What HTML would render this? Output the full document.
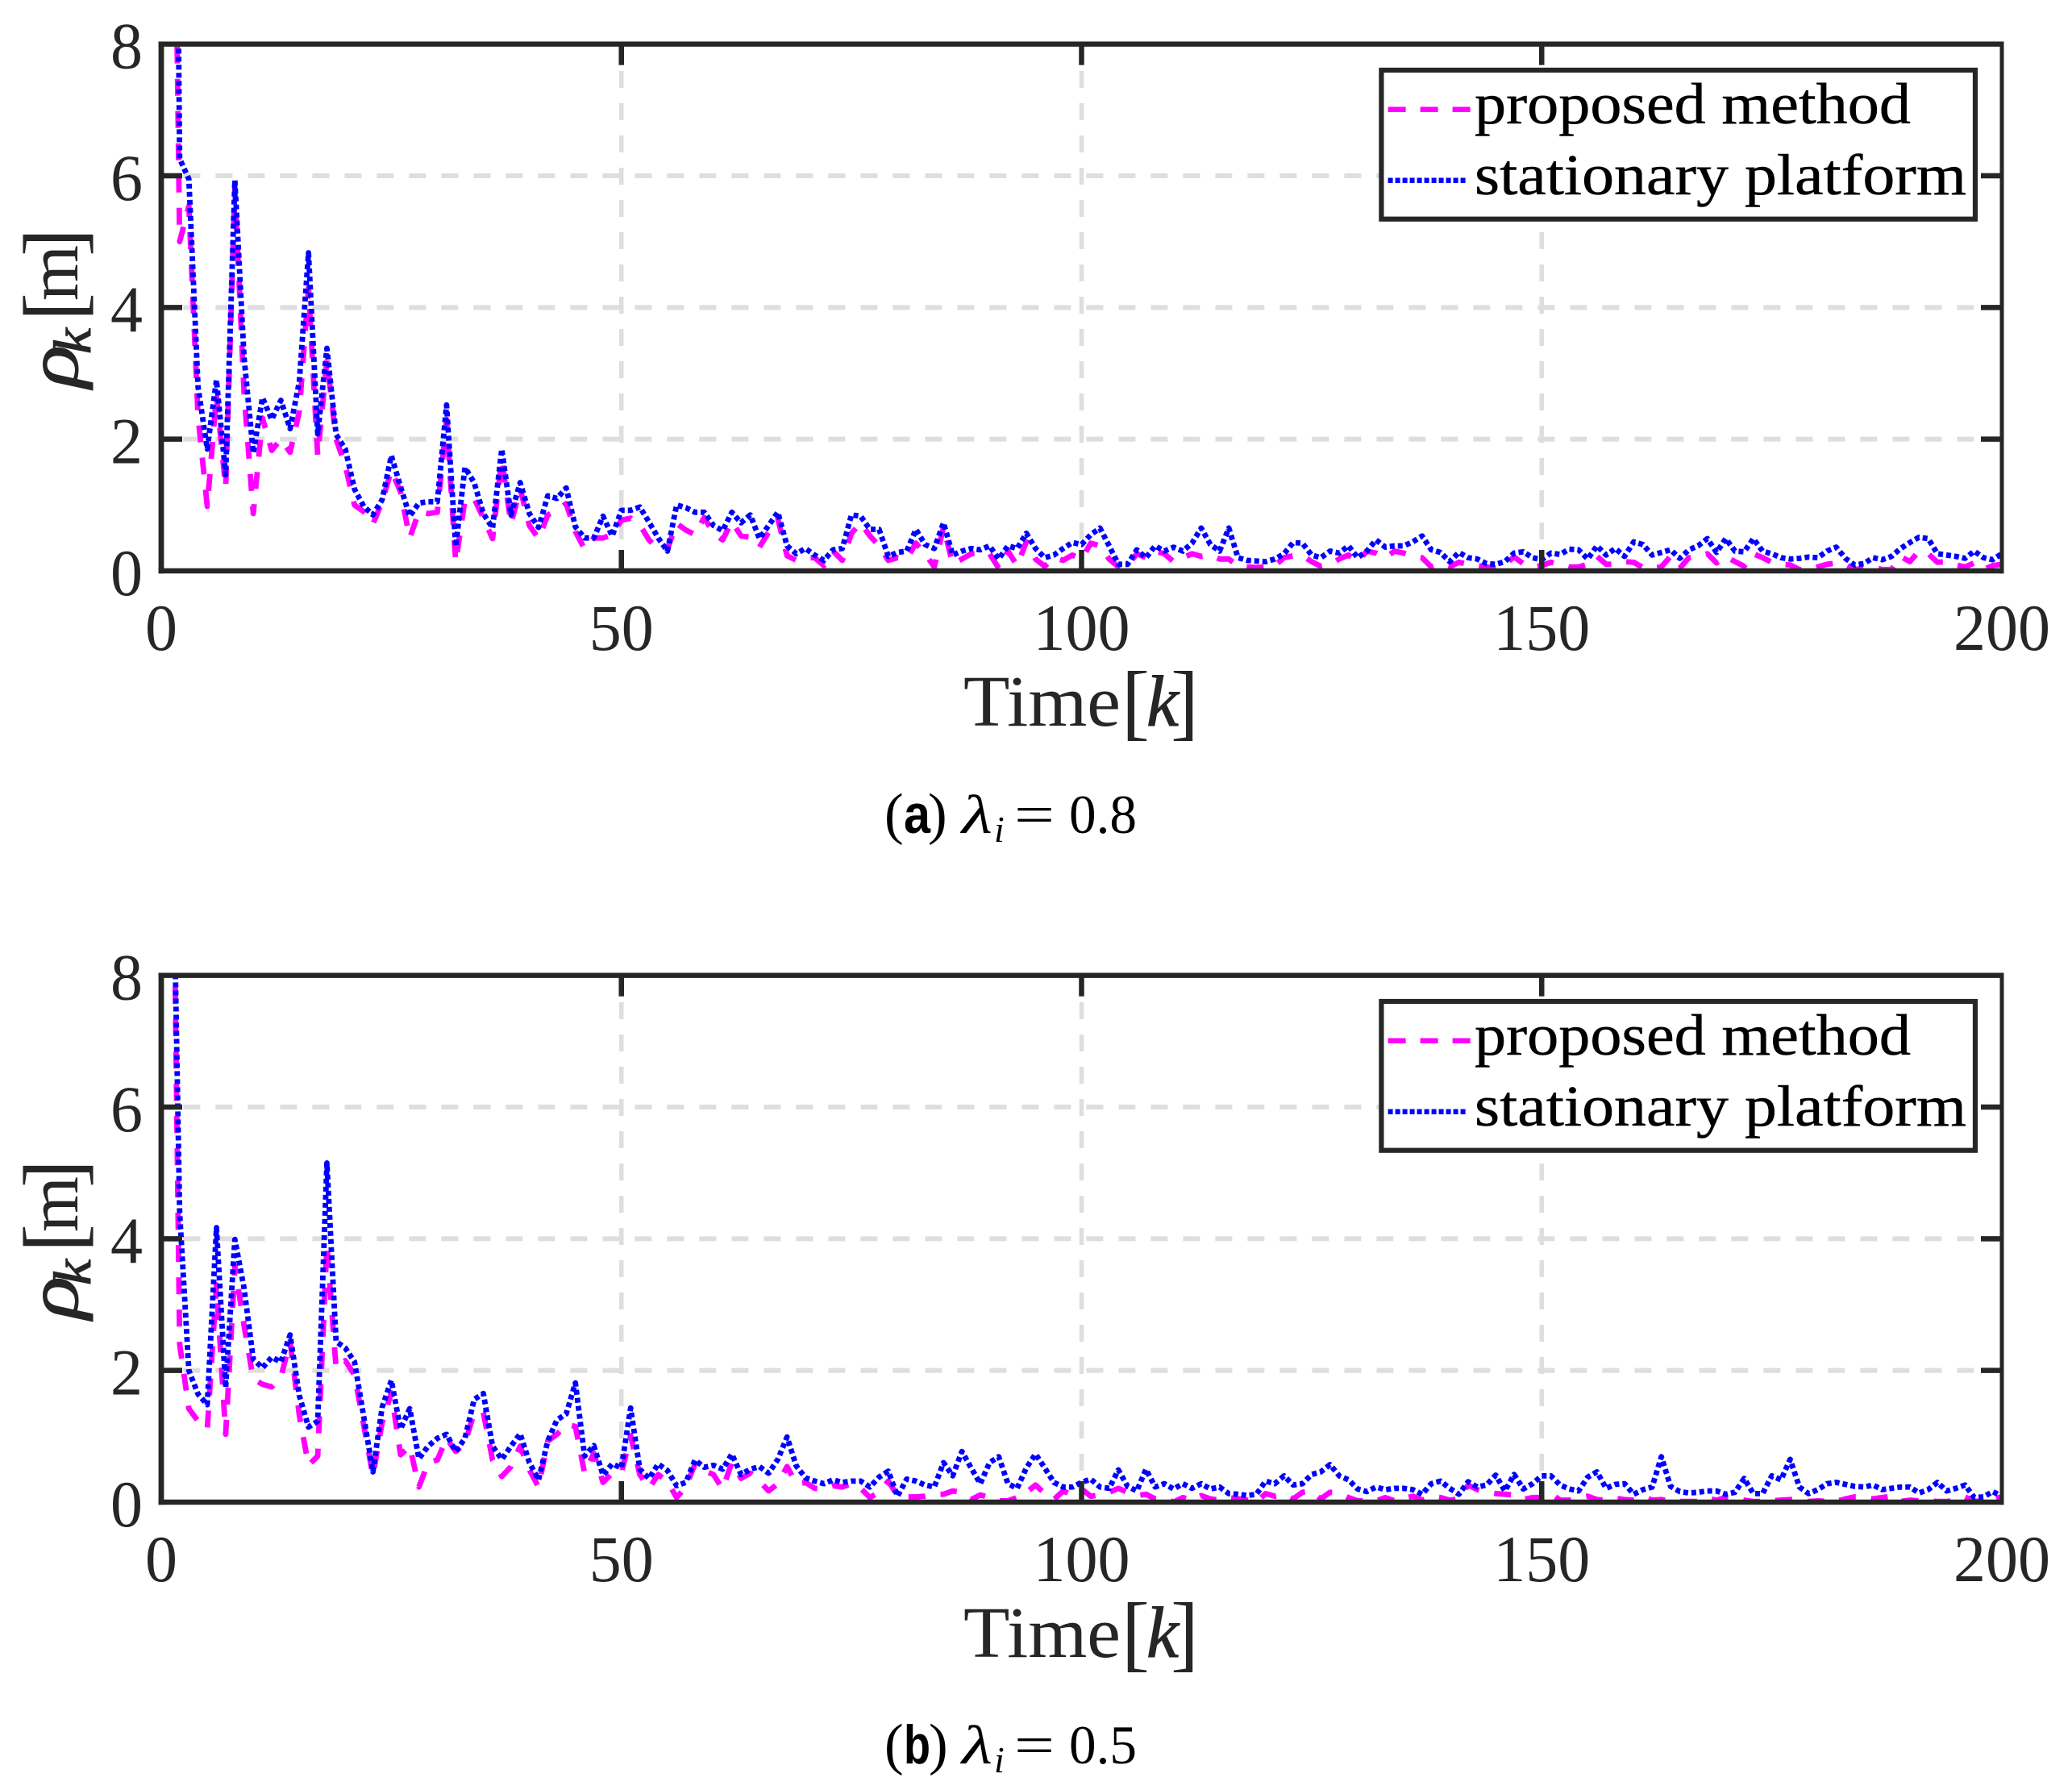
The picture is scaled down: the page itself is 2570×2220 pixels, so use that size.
<!DOCTYPE html>
<html>
<head>
<meta charset="utf-8">
<title>Chart</title>
<style>
html,body{margin:0;padding:0;background:#fff;}
svg{display:block;}
text{font-family:"Liberation Serif",serif;}
.tick{font-size:82px;fill:#262626;}
.lab{font-size:90px;fill:#262626;}
.leg{font-size:72px;fill:#000;stroke:#000;stroke-width:0.5px;}
.cap{font-size:68px;fill:#000;}
</style>
</head>
<body>
<svg id="chart" xmlns="http://www.w3.org/2000/svg" width="2570" height="2220" viewBox="0 0 2570 2220">
<defs>
<clipPath id="plot-clip"><rect x="200" y="54.7" width="2283" height="653.3"/></clipPath>
</defs>
<rect x="0" y="0" width="2570" height="2220" fill="#fff"/>

<g id="panel-a">
  <g id="marks-a" clip-path="url(#plot-clip)"></g>
  <g id="axes-a"></g>
  <g>
    <text class="lab" x="1195" y="900" textLength="195" lengthAdjust="spacingAndGlyphs">Time</text>
    <text class="lab" style="font-size:105px" x="1391" y="905">[</text>
    <text class="lab" style="font-style:italic;stroke:#262626;stroke-width:1px" x="1422" y="900">k</text>
    <text class="lab" style="font-size:105px" x="1452" y="905">]</text>
  </g>
  <g>
    <text class="lab" style="font-style:italic;stroke:#262626;stroke-width:1px" transform="translate(96,481) rotate(-90)" textLength="53" lengthAdjust="spacingAndGlyphs">ρ</text>
    <text class="lab" style="font-style:italic;font-size:66px;stroke:#262626;stroke-width:1px" transform="translate(112,439) rotate(-90)" textLength="32" lengthAdjust="spacingAndGlyphs">k</text>
    <text class="lab" style="font-size:105px" transform="translate(101.6,398) rotate(-90)">[</text>
    <text class="lab" transform="translate(96,373) rotate(-90)" textLength="69" lengthAdjust="spacingAndGlyphs">m</text>
    <text class="lab" style="font-size:105px" transform="translate(101.6,318) rotate(-90)">]</text>
  </g>
  <g>
    <rect x="1713.4" y="87" width="736.6" height="184.7" fill="#fff" stroke="#262626" stroke-width="6.2"/>
    <line x1="1721.6" y1="135.7" x2="1824" y2="135.7" stroke="#ff00ff" stroke-width="6.5" stroke-dasharray="22 18"/>
    <text class="leg" x="1829" y="153" textLength="541" lengthAdjust="spacingAndGlyphs">proposed method</text>
    <line x1="1721.6" y1="223.7" x2="1819" y2="223.7" stroke="#0000ff" stroke-width="6.5" stroke-dasharray="6 3"/>
    <text class="leg" x="1829" y="241" textLength="610" lengthAdjust="spacingAndGlyphs">stationary platform</text>
  </g>
  <g>
    <text class="cap" style="font-size:71px" x="1097" y="1033">(</text>
    <text class="cap" style="font-family:'Liberation Sans',sans-serif;font-weight:bold" x="1121" y="1033" textLength="33" lengthAdjust="spacingAndGlyphs">a</text>
    <text class="cap" style="font-size:71px" x="1151" y="1033">)</text>
    <text class="cap" style="font-style:italic" x="1193" y="1033" textLength="38" lengthAdjust="spacingAndGlyphs">λ</text>
    <text class="cap" style="font-style:italic;font-size:46px" x="1233" y="1044">i</text>
    <text class="cap" x="1258" y="1033" textLength="50" lengthAdjust="spacingAndGlyphs">=</text>
    <text class="cap" x="1326" y="1033" textLength="84" lengthAdjust="spacingAndGlyphs">0.8</text>
  </g>
</g>

<g id="panel-b" transform="translate(0,1155)">
  <g id="marks-b" clip-path="url(#plot-clip)"></g>
  <g id="axes-b"></g>
  <g>
    <text class="lab" x="1195" y="900" textLength="195" lengthAdjust="spacingAndGlyphs">Time</text>
    <text class="lab" style="font-size:105px" x="1391" y="905">[</text>
    <text class="lab" style="font-style:italic;stroke:#262626;stroke-width:1px" x="1422" y="900">k</text>
    <text class="lab" style="font-size:105px" x="1452" y="905">]</text>
  </g>
  <g>
    <text class="lab" style="font-style:italic;stroke:#262626;stroke-width:1px" transform="translate(96,481) rotate(-90)" textLength="53" lengthAdjust="spacingAndGlyphs">ρ</text>
    <text class="lab" style="font-style:italic;font-size:66px;stroke:#262626;stroke-width:1px" transform="translate(112,439) rotate(-90)" textLength="32" lengthAdjust="spacingAndGlyphs">k</text>
    <text class="lab" style="font-size:105px" transform="translate(101.6,398) rotate(-90)">[</text>
    <text class="lab" transform="translate(96,373) rotate(-90)" textLength="69" lengthAdjust="spacingAndGlyphs">m</text>
    <text class="lab" style="font-size:105px" transform="translate(101.6,318) rotate(-90)">]</text>
  </g>
  <g>
    <rect x="1713.4" y="87" width="736.6" height="184.7" fill="#fff" stroke="#262626" stroke-width="6.2"/>
    <line x1="1721.6" y1="135.7" x2="1824" y2="135.7" stroke="#ff00ff" stroke-width="6.5" stroke-dasharray="22 18"/>
    <text class="leg" x="1829" y="153" textLength="541" lengthAdjust="spacingAndGlyphs">proposed method</text>
    <line x1="1721.6" y1="223.7" x2="1819" y2="223.7" stroke="#0000ff" stroke-width="6.5" stroke-dasharray="6 3"/>
    <text class="leg" x="1829" y="241" textLength="610" lengthAdjust="spacingAndGlyphs">stationary platform</text>
  </g>
  <g>
    <text class="cap" style="font-size:71px" x="1097" y="1032">(</text>
    <text class="cap" style="font-family:'Liberation Sans',sans-serif;font-weight:bold" x="1121" y="1032" textLength="33" lengthAdjust="spacingAndGlyphs">b</text>
    <text class="cap" style="font-size:71px" x="1152" y="1032">)</text>
    <text class="cap" style="font-style:italic" x="1193" y="1032" textLength="38" lengthAdjust="spacingAndGlyphs">λ</text>
    <text class="cap" style="font-style:italic;font-size:46px" x="1233" y="1043">i</text>
    <text class="cap" x="1258" y="1032" textLength="50" lengthAdjust="spacingAndGlyphs">=</text>
    <text class="cap" x="1326" y="1032" textLength="84" lengthAdjust="spacingAndGlyphs">0.5</text>
  </g>
</g>
</svg>

<script>
var xTicks = [0, 50, 100, 150, 200];
var yTicks = [0, 2, 4, 6, 8];
var xMax = 200;
var yMax = 8;

var proposedA = [
15.8,5.0,5.54,2.34,.98,2.67,1.26,5.8,2.7,.87,
2.32,1.83,2.0,1.8,2.42,4.3,1.75,3.2,2.0,1.6,
1.0,.9,.71,1.05,1.53,1.2,.5,.9,.87,.89,
2.3,.13,1.08,1.1,.8,.49,1.7,.71,1.25,.69,
.49,.85,.92,1.02,.6,.33,.5,.5,.55,.77,
.8,.7,.47,.33,.33,.72,.62,.55,.81,.57,
.47,.75,.53,.51,.36,.59,.79,.23,.16,.2,
.2,.08,.3,.16,.57,.73,.53,.38,.16,.2,
.18,.42,.26,.06,.67,.1,.18,.26,.26,.26,
.04,.3,.08,.44,.18,.07,.2,.16,.24,.18,
.42,.38,.18,.06,.08,.26,.2,.3,.26,.14,
.2,.26,.22,.24,.18,.18,.07,.06,.05,.06,
.08,.2,.23,.23,.14,.07,.1,.18,.24,.14,
.3,.27,.2,.3,.27,.22,.2,.06,.1,.06,
.13,.1,.08,.06,.04,.1,.21,.11,.06,.08,
.13,.1,.06,.06,.1,.22,.1,.1,.14,.13,
.05,.04,.06,.22,.04,.2,.22,.26,.12,.22,
.14,.07,.26,.2,.13,.1,.09,.02,.02,.06,
.1,.12,.1,.02,.04,.06,.02,.02,.22,.14,
.3,.26,.13,.14,.09,.06,.12,.02,.08,.1
];
var stationaryA = [
21.4,6.26,5.95,2.79,1.85,2.9,1.46,5.93,3.24,1.79,
2.63,2.3,2.59,2.16,2.87,4.83,2.08,3.38,2.07,1.85,
1.24,.98,.85,1.08,1.75,1.28,.83,1.03,1.05,1.05,
2.52,.37,1.57,1.34,.87,.65,1.85,.85,1.34,.87,
.66,1.14,1.1,1.26,.67,.5,.5,.83,.53,.92,
.92,.97,.74,.5,.3,1.0,.96,.89,.89,.69,
.61,.89,.73,.85,.49,.69,.89,.38,.26,.34,
.24,.16,.32,.34,.85,.83,.63,.63,.22,.28,
.3,.63,.4,.34,.73,.24,.3,.34,.32,.38,
.18,.38,.34,.57,.34,.2,.24,.34,.43,.4,
.55,.65,.38,.1,.1,.32,.2,.38,.3,.36,
.3,.42,.65,.4,.3,.65,.2,.16,.15,.14,
.18,.26,.43,.42,.24,.2,.3,.27,.38,.2,
.3,.47,.36,.38,.38,.44,.53,.32,.28,.14,
.28,.2,.18,.11,.1,.14,.27,.29,.2,.17,
.27,.25,.33,.32,.18,.38,.24,.34,.22,.44,
.4,.24,.28,.32,.19,.32,.38,.49,.28,.49,
.3,.29,.49,.3,.26,.2,.18,.19,.21,.2,
.3,.36,.19,.09,.11,.2,.17,.22,.34,.43,
.51,.49,.26,.24,.22,.19,.3,.2,.17,.26
];
var proposedB = [
13.7,2.4,1.42,1.23,1.11,3.3,1.03,3.58,2.68,1.87,
1.79,1.75,1.9,2.44,1.32,.56,.7,3.9,2.03,2.15,
1.93,1.17,.4,1.21,1.66,.72,.85,.23,.6,.64,
.97,.77,.89,1.36,1.36,.64,.39,.54,.85,.49,
.23,.93,1.03,1.18,1.15,.44,.74,.3,.44,.44,
1.01,.42,.21,.42,.31,.07,.23,.58,.48,.42,
.2,.6,.36,.44,.32,.17,.28,.54,.28,.3,
.21,.2,.25,.23,.28,.21,.07,.15,.32,.1,
.08,.08,.09,.12,.12,.17,.15,.04,.11,.07,
.02,.02,.07,.15,.26,.13,.04,.17,.11,.2,
.09,.11,.15,.21,.15,.1,.12,.05,.07,0,
.07,.03,.1,.05,.03,.07,.05,.03,0,.13,
.09,.12,.05,.15,.17,.05,.15,.14,.07,.02,
.02,.02,.07,.02,.06,.09,.03,.09,.07,.03,
.05,.26,.19,.15,.13,.12,.11,.04,.07,.07,
.13,.03,.03,.07,.09,.04,.03,.06,.04,.03,
.09,.03,.04,.01,.01,.01,.01,.06,.03,.07,
.07,.03,.01,.01,.02,.03,.04,.04,.01,.02,
.01,.01,.05,.08,.08,.05,.07,.09,.01,.03,
.02,.02,.01,.01,.03,.08,.01,.02,.05,.08
];
var stationaryB = [
12.3,4.4,2.0,1.64,1.48,4.17,1.74,3.99,3.25,2.17,
2.04,2.2,2.13,2.54,1.62,1.14,1.23,5.15,2.44,2.34,
2.13,1.3,.46,1.44,1.85,1.11,1.42,.66,.85,.97,
1.03,.77,.97,1.56,1.65,.85,.65,.85,1.04,.6,
.34,.93,1.25,1.34,1.81,.7,.86,.41,.58,.52,
1.43,.5,.36,.58,.48,.25,.3,.64,.53,.56,
.5,.73,.42,.5,.54,.44,.65,.99,.55,.37,
.32,.28,.34,.3,.32,.32,.23,.38,.47,.09,
.35,.32,.26,.23,.6,.4,.77,.52,.28,.6,
.69,.28,.21,.52,.73,.52,.3,.23,.23,.3,
.35,.23,.21,.49,.24,.17,.5,.23,.28,.2,
.28,.21,.28,.2,.23,.13,.12,.1,.12,.32,
.28,.4,.26,.28,.42,.46,.57,.4,.34,.2,
.16,.23,.19,.21,.21,.19,.12,.28,.32,.21,
.12,.31,.23,.26,.41,.17,.42,.2,.28,.4,
.4,.26,.2,.17,.38,.46,.21,.27,.28,.12,
.19,.23,.69,.24,.16,.14,.15,.17,.17,.12,
.15,.36,.13,.13,.4,.34,.65,.23,.13,.19,
.28,.3,.27,.24,.23,.26,.19,.21,.23,.23,
.14,.19,.3,.17,.21,.26,.07,.08,.16,.09
];

var SVGNS = 'http://www.w3.org/2000/svg';
var AX = { left: 200, right: 2483, top: 54.7, bottom: 708 };
var INK = '#262626';
var GRID = '#dedede';

function xScale(k) { return AX.left + (k / xMax) * (AX.right - AX.left); }
function yScale(v) { return AX.bottom - (v / yMax) * (AX.bottom - AX.top); }

function makeLine(x1, y1, x2, y2, color, width, dash) {
  var l = document.createElementNS(SVGNS, 'line');
  l.setAttribute('x1', x1);
  l.setAttribute('y1', y1);
  l.setAttribute('x2', x2);
  l.setAttribute('y2', y2);
  l.setAttribute('stroke', color);
  l.setAttribute('stroke-width', width);
  if (dash) l.setAttribute('stroke-dasharray', dash);
  return l;
}

function drawSeries(parent, values, color, width, dash, name) {
  var p = document.createElementNS(SVGNS, 'polyline');
  var pts = [];
  for (var i = 0; i < values.length; i++) {
    pts.push(xScale(i + 1).toFixed(2) + ',' + yScale(values[i]).toFixed(2));
  }
  p.setAttribute('points', pts.join(' '));
  p.setAttribute('fill', 'none');
  p.setAttribute('stroke', color);
  p.setAttribute('stroke-width', width);
  p.setAttribute('stroke-dasharray', dash);
  p.setAttribute('stroke-linejoin', 'round');
  
  
  parent.appendChild(p);
}

function drawPanel(suffix, proposed, stationary) {
  var marks = document.getElementById('marks-' + suffix);
  var axes = document.getElementById('axes-' + suffix);

  yTicks.forEach(function (v) {
    if (v === 0 || v === yMax) return;
    var g = makeLine(227.4, yScale(v), AX.right, yScale(v), GRID, 6, '21 19');
    
    
    marks.appendChild(g);
  });
  xTicks.forEach(function (k) {
    if (k === 0 || k === xMax) return;
    var g = makeLine(xScale(k), 48, xScale(k), AX.bottom, GRID, 5.5, '21 19');
    
    
    marks.appendChild(g);
  });

  drawSeries(marks, proposed, '#ff00ff', 6.8, '21 19', 'series-proposed-method');
  drawSeries(marks, stationary, '#0000ff', 6.8, '6 4', 'series-stationary-platform');

  yTicks.forEach(function (v) {
    if (v !== 0 && v !== yMax) {
      var tl = makeLine(AX.left, yScale(v), AX.left + 26, yScale(v), INK, 6.5);
      
      
      axes.appendChild(tl);
      var tr = makeLine(AX.right - 26, yScale(v), AX.right, yScale(v), INK, 6.5);
      
      
      axes.appendChild(tr);
    }
    var t = document.createElementNS(SVGNS, 'text');
    t.setAttribute('class', 'tick');
    t.setAttribute('x', 177);
    t.setAttribute('y', yScale(v) + 30);
    t.setAttribute('text-anchor', 'end');
    t.setAttribute('textLength', String(v).length * 40);
    t.setAttribute('lengthAdjust', 'spacingAndGlyphs');
    
    
    t.textContent = String(v);
    axes.appendChild(t);
  });

  xTicks.forEach(function (k) {
    if (k !== 0 && k !== xMax) {
      var tt = makeLine(xScale(k), AX.top, xScale(k), AX.top + 26, INK, 6.5);
      
      
      axes.appendChild(tt);
      var tb = makeLine(xScale(k), AX.bottom - 26, xScale(k), AX.bottom, INK, 6.5);
      
      
      axes.appendChild(tb);
    }
    var t = document.createElementNS(SVGNS, 'text');
    t.setAttribute('class', 'tick');
    t.setAttribute('x', xScale(k));
    t.setAttribute('y', 806);
    t.setAttribute('text-anchor', 'middle');
    t.setAttribute('textLength', String(k).length * 40);
    t.setAttribute('lengthAdjust', 'spacingAndGlyphs');
    
    
    t.textContent = String(k);
    axes.appendChild(t);
  });

  var top = makeLine(AX.left - 3.4, AX.top, AX.right + 2.5, AX.top, INK, 6.4);
  
  
  axes.appendChild(top);
  var bottom = makeLine(AX.left - 3.4, AX.bottom, AX.right + 2.5, AX.bottom, INK, 6.4);
  
  
  axes.appendChild(bottom);
  var left = makeLine(AX.left, AX.top - 3.2, AX.left, AX.bottom + 3.2, INK, 6.8);
  
  
  axes.appendChild(left);
  var right = makeLine(AX.right, AX.top - 3.2, AX.right, AX.bottom + 3.2, INK, 5);
  
  
  axes.appendChild(right);
}

drawPanel('a', proposedA, stationaryA);
drawPanel('b', proposedB, stationaryB);
</script>
</body>
</html>
